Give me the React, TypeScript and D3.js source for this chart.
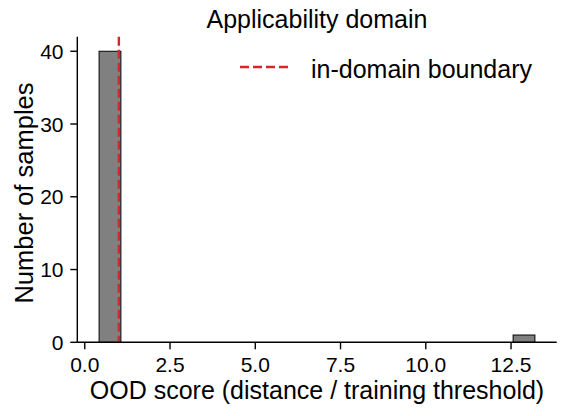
import React from "react";
import * as d3 from "d3";

const binCounts = [40, 0, 0, 0, 0, 0, 0, 0, 0, 0, 0, 0, 0, 0, 0, 0, 0, 0, 0, 1];
const binRange = [0.42, 13.2];
const boundary = 1.0;
const xTicks = [0, 2.5, 5, 7.5, 10, 12.5];
const yTicks = [0, 10, 20, 30, 40];
const title = "Applicability domain";
const xLabel = "OOD score (distance / training threshold)";
const yLabel = "Number of samples";
const legendLabel = "in-domain boundary";

const W = 566, H = 416;
const left = 77.3, right = 556.7, top = 36.7, bottom = 342.3;
const FONT = "'Liberation Sans', Arial, sans-serif";

export default function App() {
  const nb = binCounts.length;
  const bw = (binRange[1] - binRange[0]) / nb;
  const R = binRange[1] - binRange[0];
  const x = d3.scaleLinear().domain([binRange[0] - 0.05 * R, binRange[1] + 0.05 * R]).range([left, right]);
  const ymax = d3.max(binCounts)! * 1.05;
  const y = d3.scaleLinear().domain([0, ymax]).range([bottom, top]);
  const tickLen = 7;
  const fmt = d3.format(".1f");
  return (
    <svg width={W} height={H} style={{ position: "absolute", left: 0, top: 0, background: "#fff" }} fontFamily={FONT}>
      {binCounts.map((c, i) =>
        c > 0 ? (
          <rect key={i} x={x(binRange[0] + i * bw)} y={y(c)} width={x(binRange[0] + (i + 1) * bw) - x(binRange[0] + i * bw)} height={y(0) - y(c)} fill="#808080" stroke="#000" strokeWidth={1} />
        ) : null
      )}
      <line x1={x(boundary)} x2={x(boundary)} y1={top} y2={bottom} stroke="#d62728" strokeWidth={2.4} strokeDasharray="9,4" />
      <line x1={left} x2={left} y1={top} y2={bottom} stroke="#000" strokeWidth={1.4} />
      <line x1={left} x2={right} y1={bottom} y2={bottom} stroke="#000" strokeWidth={1.4} />
      {xTicks.map((t) => (
        <g key={t}>
          <line x1={x(t)} x2={x(t)} y1={bottom} y2={bottom + tickLen} stroke="#000" strokeWidth={1.4} />
          <text x={x(t)} y={371.5} fontSize={21} textAnchor="middle">{fmt(t)}</text>
        </g>
      ))}
      {yTicks.map((t) => (
        <g key={t}>
          <line x1={left - tickLen} x2={left} y1={y(t)} y2={y(t)} stroke="#000" strokeWidth={1.4} />
          <text x={63.5} y={y(t) + 7.5} fontSize={21} textAnchor="end">{t}</text>
        </g>
      ))}
      <text x={(left + right) / 2} y={398.5} fontSize={25} textAnchor="middle">{xLabel}</text>
      <text transform={`translate(33,193) rotate(-90)`} fontSize={25.5} textAnchor="middle">{yLabel}</text>
      <text x={(left + right) / 2} y={28} fontSize={25} textAnchor="middle">{title}</text>
      <line x1={240} x2={290} y1={67} y2={67} stroke="#d62728" strokeWidth={2.4} strokeDasharray="9,4" />
      <text x={311} y={78} fontSize={25}>{legendLabel}</text>
    </svg>
  );
}
